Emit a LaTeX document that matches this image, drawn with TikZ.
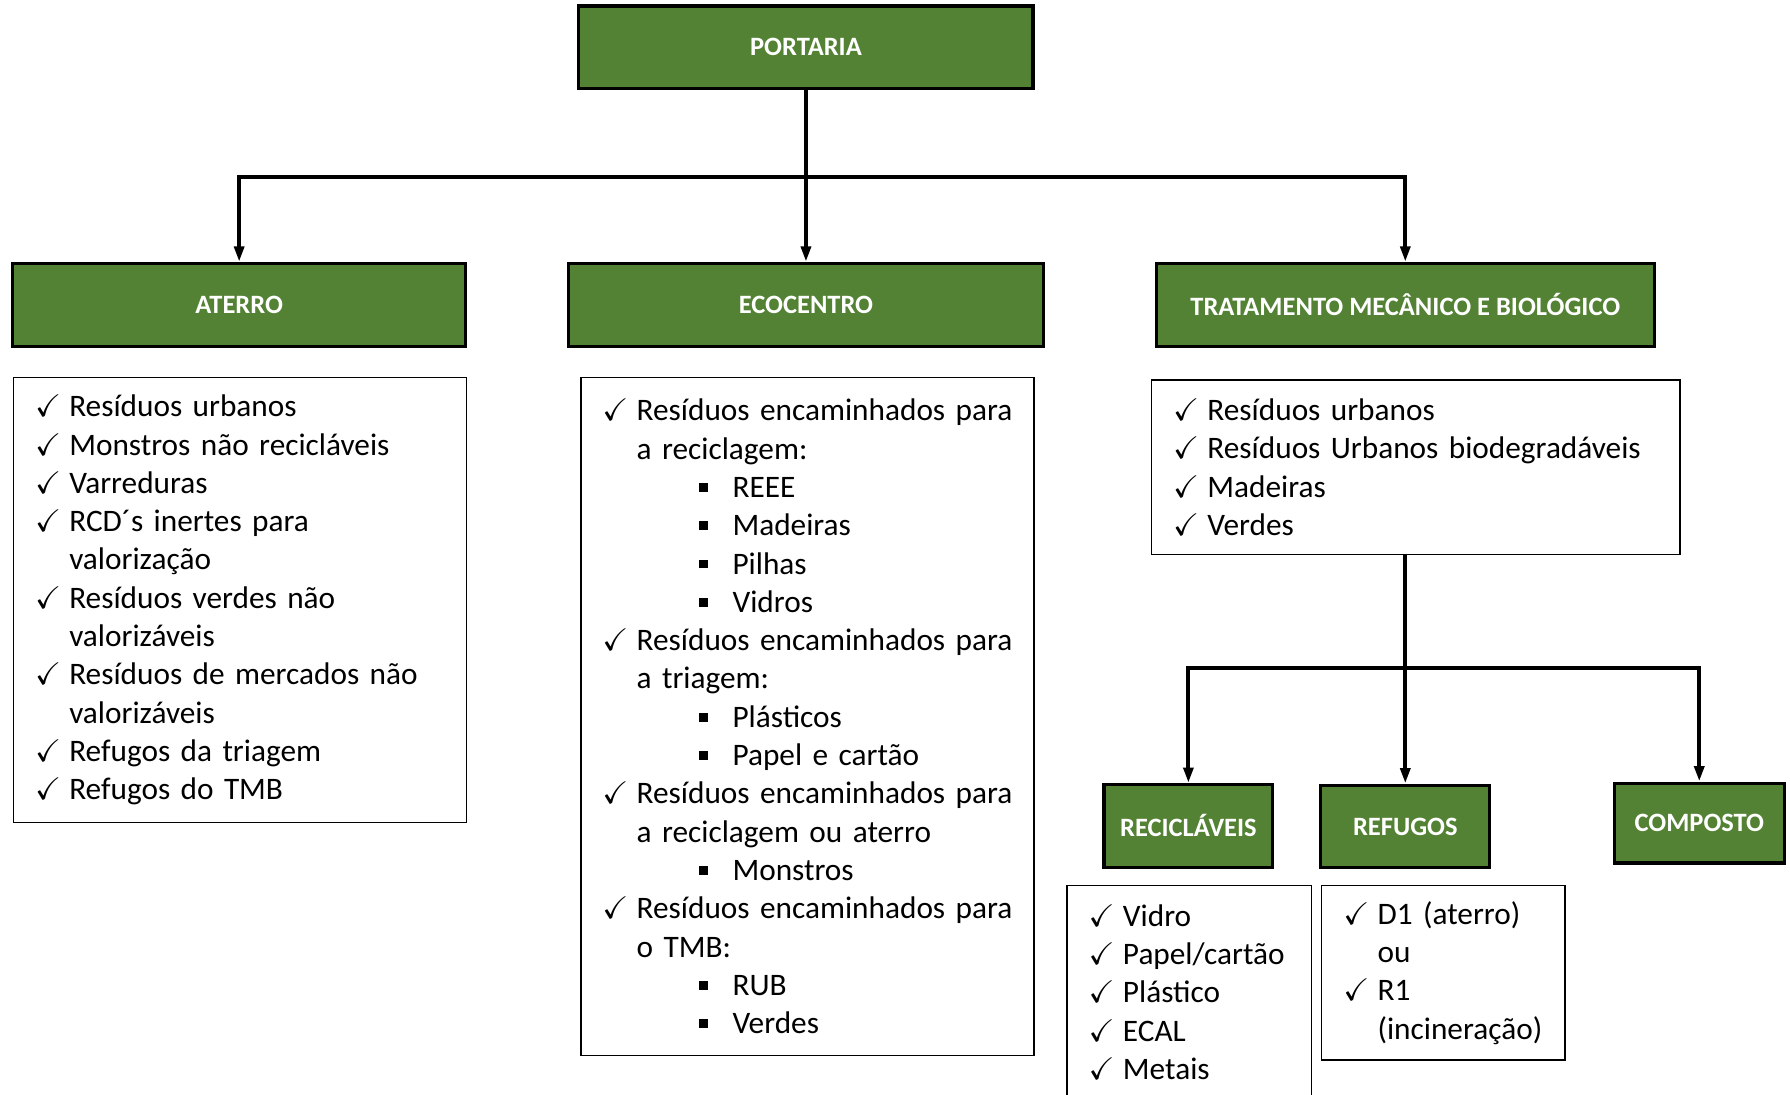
\documentclass[tikz,border=0pt]{standalone}
\usepackage{amssymb}
\usepackage{fontspec}
\setmainfont{Carlito}
\usetikzlibrary{arrows.meta}
\definecolor{verde}{RGB}{84,130,53}
\newcommand{\ck}{\hspace*{0.18cm}\makebox[0.6cm][l]{$\checkmark$}}
\newcommand{\hg}{\hspace*{0.78cm}}
\newcommand{\sq}{\hspace*{1.88cm}\makebox[0.58cm][l]{\rule[0.1cm]{0.15cm}{0.15cm}}}

\begin{document}
\begin{tikzpicture}[x=0.02cm,y=-0.02cm,
  caixa/.style={draw=black,line width=1.6pt,fill=verde,text=white,font=\fontsize{13.2}{16}\selectfont\bfseries,minimum height=1.45cm},
  lista/.style={draw=black,line width=0.8pt,anchor=north west,align=left,inner xsep=0.2cm,font=\fontsize{15.6}{19.1}\selectfont},
  linha/.style={line width=1.9pt},
  seta/.style={linha,-{Triangle[length=0.27cm,width=0.17cm]}}]
  \useasboundingbox (0,0) rectangle (1568,959);
  \node[caixa,minimum width=7.96cm] (portaria) at (706,41.5) {PORTARIA};
  \node[caixa,minimum width=7.94cm] (aterro) at (209.5,267) {ATERRO};
  \node[caixa,minimum width=8.32cm] (ecocentro) at (706,267) {ECOCENTRO};
  \node[caixa,minimum width=8.72cm] (tmb) at (1231,267) {TRATAMENTO MECÂNICO E BIOLÓGICO};
  \node[caixa,minimum width=2.96cm] (reciclaveis) at (1041,723.5) {RECICLÁVEIS};
  \node[caixa,minimum width=2.96cm] (refugos) at (1231,724) {REFUGOS};
  \node[caixa,minimum width=2.98cm,minimum height=1.40cm] (composto) at (1488.5,721) {COMPOSTO};
  \node[lista,text width=7.54cm,minimum height=7.8cm] (laterro) at (11,330) {\ck Resíduos urbanos\\
    \ck Monstros não recicláveis\\
    \ck Varreduras\\
    \ck RCD´s inertes para\\
    \hg valorização\\
    \ck Resíduos verdes não\\
    \hg valorizáveis\\
    \ck Resíduos de mercados não\\
    \hg valorizáveis\\
    \ck Refugos da triagem\\
    \ck Refugos do TMB};
  \node[lista,text width=7.54cm,minimum height=11.88cm] (lecocentro) at (508,330) {\ck Resíduos encaminhados para\\
    \hg a reciclagem:\\
    \sq REEE\\
    \sq Madeiras\\
    \sq Pilhas\\
    \sq Vidros\\
    \ck Resíduos encaminhados para\\
    \hg a triagem:\\
    \sq Plásticos\\
    \sq Papel e cartão\\
    \ck Resíduos encaminhados para\\
    \hg a reciclagem ou aterro\\
    \sq Monstros\\
    \ck Resíduos encaminhados para\\
    \hg o TMB:\\
    \sq RUB\\
    \sq Verdes};
  \node[lista,text width=8.86cm,minimum height=3.06cm] (ltmb) at (1008,332) {\ck Resíduos urbanos\\
    \ck Resíduos Urbanos biodegradáveis\\
    \ck Madeiras\\
    \ck Verdes};
  \node[lista,text width=3.88cm,minimum height=3.74cm] (lreciclaveis) at (934,775) {\ck Vidro\\
    \ck Papel/cartão\\
    \ck Plástico\\
    \ck ECAL\\
    \ck Metais};
  \node[lista,text width=3.86cm,minimum height=3.06cm] (lrefugos) at (1157,775) {\ck D1 (aterro)\\
    \hg ou\\
    \ck R1\\
    \hg (incineração)};
  \coordinate (j1) at (706,155);
  \coordinate (j2) at (1231,585);
  \draw[linha] (portaria) -- (j1);
  \foreach \n in {aterro,ecocentro,tmb}
    \draw[seta] (j1) -| (\n);
  \draw[linha] (ltmb.south -| j2) -- (j2);
  \foreach \n in {reciclaveis,refugos,composto}
    \draw[seta] (j2) -| (\n);
\end{tikzpicture}
\end{document}
